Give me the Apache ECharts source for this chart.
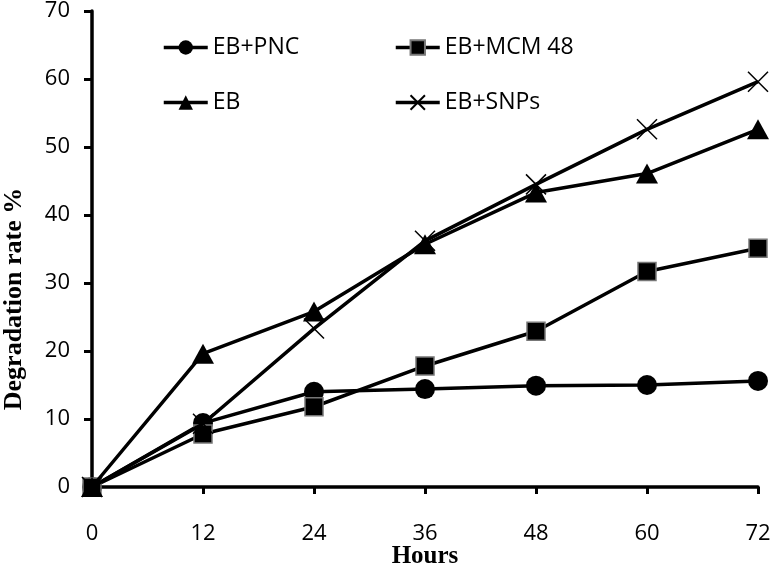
<!DOCTYPE html>
<html>
<head>
<meta charset="utf-8">
<script src="https://cdn.jsdelivr.net/npm/echarts@6/dist/echarts.min.js"></script>
<style>
  html, body { margin: 0; padding: 0; background: #fff; }
  #main { width: 774px; height: 566px; }
</style>
</head>
<body>
<div id="main"></div>
<script>
// hours of exposure
const hours = [0, 12, 24, 36, 48, 60, 72];
// degradation rate % per sample
const ebPnc = [0, 9.4, 14.0, 14.4, 14.9, 15.0, 15.6];
const ebMcm48 = [0, 7.8, 11.8, 17.8, 22.9, 31.7, 35.1];
const eb = [0, 19.6, 25.8, 35.7, 43.3, 46.1, 52.6];
const ebSnps = [0, 9.3, 23.3, 36.2, 44.5, 52.6, 59.6];
const seriesNames = ['EB+PNC', 'EB+MCM 48', 'EB', 'EB+SNPs'];

const labelFont = 'Open Sans';
const crossPath = 'path://M0,0L10,10M10,0L0,10';

function pairs(vals) {
  return hours.map((h, i) => [h, vals[i]]);
}

function legendAt(name, left, top) {
  return {
    data: [name],
    left: left,
    top: top,
    itemWidth: 44,
    itemHeight: 18,
    itemGap: 0,
    lineStyle: { width: 3.5, color: '#000' },
    textStyle: { fontFamily: labelFont, fontSize: 23, color: '#000' }
  };
}

let myChart = echarts.init(document.getElementById('main'));

let option = {
  animation: false,
  backgroundColor: '#fff',
  grid: { left: 92, right: 16, top: 11, bottom: 79, containLabel: false, outerBoundsMode: 'none' },
  legend: [
    legendAt('EB+PNC', 157, 31),
    legendAt('EB+MCM 48', 389, 31),
    legendAt('EB', 157, 86),
    legendAt('EB+SNPs', 389, 86)
  ],
  graphic: [
    {
      type: 'text',
      x: 14,
      y: 299,
      rotation: Math.PI / 2,
      style: {
        text: 'Degradation rate %',
        font: 'bold 26px "Liberation Serif", "Times New Roman", serif',
        fill: '#000',
        align: 'center',
        verticalAlign: 'middle'
      }
    }
  ],
  xAxis: {
    type: 'value',
    min: 0,
    max: 72,
    interval: 12,
    name: 'Hours',
    nameLocation: 'middle',
    nameGap: 57,
    nameMoveOverlap: false,
    nameTextStyle: { fontFamily: 'Liberation Serif', fontWeight: 'bold', fontSize: 25, color: '#000' },
    axisLine: { lineStyle: { color: '#000', width: 3.5 } },
    axisTick: { show: true, inside: false, length: 7, lineStyle: { color: '#000', width: 3 } },
    axisLabel: { margin: 36, fontFamily: labelFont, fontSize: 22, color: '#000' },
    splitLine: { show: false }
  },
  yAxis: {
    type: 'value',
    min: 0,
    max: 70,
    interval: 10,
    axisLine: { show: true, lineStyle: { color: '#000', width: 3.5 } },
    axisTick: { show: true, inside: false, length: 8, lineStyle: { color: '#000', width: 3 } },
    axisLabel: { margin: 22, fontFamily: labelFont, fontSize: 22, color: '#000' },
    splitLine: { show: false }
  },
  series: [
    {
      name: seriesNames[0],
      type: 'line',
      data: pairs(ebPnc),
      symbol: 'circle',
      symbolSize: 20,
      lineStyle: { color: '#000', width: 3.5 },
      itemStyle: { color: '#000' },
      z: 2
    },
    {
      name: seriesNames[1],
      type: 'line',
      data: pairs(ebMcm48),
      symbol: 'rect',
      symbolSize: 18,
      lineStyle: { color: '#000', width: 3.5 },
      itemStyle: { color: '#000', borderColor: '#777', borderWidth: 1.5 },
      z: 3
    },
    {
      name: seriesNames[2],
      type: 'line',
      data: pairs(eb),
      symbol: 'triangle',
      symbolSize: [22, 20],
      lineStyle: { color: '#000', width: 3.5 },
      itemStyle: { color: '#000' },
      z: 4
    },
    {
      name: seriesNames[3],
      type: 'line',
      data: pairs(ebSnps),
      symbol: crossPath,
      symbolSize: 20,
      lineStyle: { color: '#000', width: 3.5 },
      itemStyle: { color: 'transparent', borderColor: '#000', borderWidth: 1.5 },
      z: 5
    }
  ]
};

myChart.setOption(option);
</script>
</body>
</html>
